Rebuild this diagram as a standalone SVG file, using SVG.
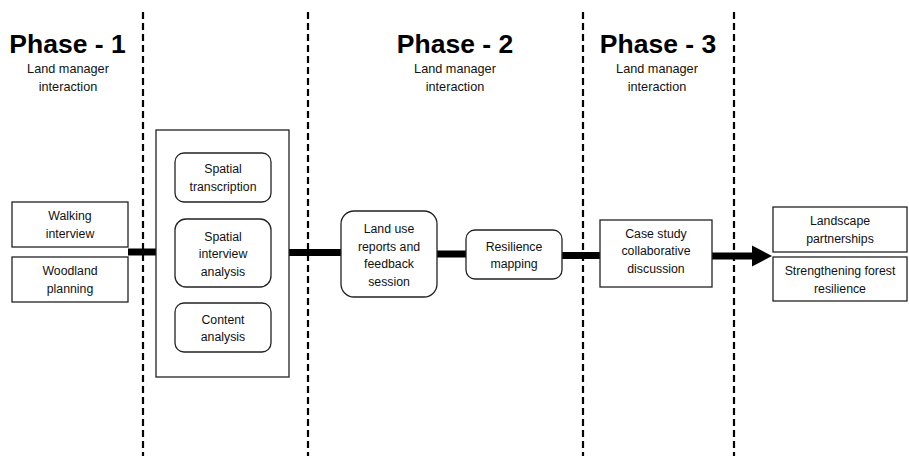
<svg xmlns="http://www.w3.org/2000/svg" width="909" height="456" viewBox="0 0 909 456">
<style>
.title{font-family:"Liberation Sans",Arial,sans-serif;font-weight:bold;font-size:26.5px;fill:#000;text-anchor:middle}
.sub{font-family:"Liberation Sans",Arial,sans-serif;font-size:12.7px;fill:#111;text-anchor:middle}
.lbl{font-family:"Liberation Sans",Arial,sans-serif;font-size:12.3px;fill:#111;text-anchor:middle}
.box{fill:#fff;stroke:#222;stroke-width:1.3}
.div{stroke:#000;stroke-width:2.2;stroke-dasharray:7 4;fill:none}
.bar{stroke:#000;stroke-width:7;fill:none}
</style>
<rect width="909" height="456" fill="#fff"/>
<g id="dividers">
<line class="div" x1="143" y1="12" x2="143" y2="456"/>
<line class="div" x1="308" y1="12" x2="308" y2="456"/>
<line class="div" x1="583" y1="12" x2="583" y2="456"/>
<line class="div" x1="734" y1="12" x2="734" y2="456"/>
</g>
<g id="headers">
<text class="title" x="67.5" y="53">Phase - 1</text>
<text class="sub" x="68" y="73">Land manager</text>
<text class="sub" x="68" y="91">interaction</text>
<text class="title" x="455" y="53">Phase - 2</text>
<text class="sub" x="455" y="73">Land manager</text>
<text class="sub" x="455" y="91">interaction</text>
<text class="title" x="658" y="53">Phase - 3</text>
<text class="sub" x="657" y="73">Land manager</text>
<text class="sub" x="657" y="91">interaction</text>
</g>
<g id="connectors">
<line class="bar" x1="128" y1="252" x2="157" y2="252"/>
<line class="bar" x1="289" y1="252.5" x2="341" y2="252.5"/>
<line class="bar" x1="437" y1="254" x2="466" y2="254"/>
<line class="bar" x1="562" y1="255.5" x2="600" y2="255.5"/>
<line class="bar" x1="712" y1="256" x2="754" y2="256"/>
<polygon points="752,245.5 772,256 752,266.5" fill="#000"/>
</g>
<g id="walking-interview">
<rect class="box" x="12" y="202" width="116" height="45"/>
<text class="lbl" x="70" y="220">Walking</text>
<text class="lbl" x="70" y="237.5">interview</text>
</g>
<g id="woodland-planning">
<rect class="box" x="12" y="257" width="116" height="45"/>
<text class="lbl" x="70" y="275">Woodland</text>
<text class="lbl" x="70" y="292.5">planning</text>
</g>
<g id="analysis-group">
<rect class="box" x="156" y="130" width="133" height="247"/>
</g>
<g id="spatial-transcription">
<rect class="box" x="175" y="153" width="96" height="49" rx="9"/>
<text class="lbl" x="223" y="173">Spatial</text>
<text class="lbl" x="223" y="190.5">transcription</text>
</g>
<g id="spatial-interview-analysis">
<rect class="box" x="175" y="219" width="96" height="68" rx="11"/>
<text class="lbl" x="223" y="240.5">Spatial</text>
<text class="lbl" x="223" y="258">interview</text>
<text class="lbl" x="223" y="275.5">analysis</text>
</g>
<g id="content-analysis">
<rect class="box" x="175" y="303" width="96" height="49" rx="9"/>
<text class="lbl" x="223" y="323.5">Content</text>
<text class="lbl" x="223" y="341">analysis</text>
</g>
<g id="land-use-reports">
<rect class="box" x="341" y="211" width="96" height="86" rx="13"/>
<text class="lbl" x="389" y="233">Land use</text>
<text class="lbl" x="389" y="250.5">reports and</text>
<text class="lbl" x="389" y="268">feedback</text>
<text class="lbl" x="389" y="285.5">session</text>
</g>
<g id="resilience-mapping">
<rect class="box" x="466" y="230" width="96" height="49" rx="9"/>
<text class="lbl" x="514" y="250.5">Resilience</text>
<text class="lbl" x="514" y="268">mapping</text>
</g>
<g id="case-study">
<rect class="box" x="600" y="220" width="112" height="67"/>
<text class="lbl" x="656" y="237.5">Case study</text>
<text class="lbl" x="656" y="255">collaborative</text>
<text class="lbl" x="656" y="272.5">discussion</text>
</g>
<g id="landscape-partnerships">
<rect class="box" x="773" y="207" width="134" height="45"/>
<text class="lbl" x="840" y="225">Landscape</text>
<text class="lbl" x="840" y="242.5">partnerships</text>
</g>
<g id="strengthening-forest-resilience">
<rect class="box" x="773" y="257" width="134" height="44"/>
<text class="lbl" x="840" y="275">Strengthening forest</text>
<text class="lbl" x="840" y="292.5">resilience</text>
</g>
</svg>
